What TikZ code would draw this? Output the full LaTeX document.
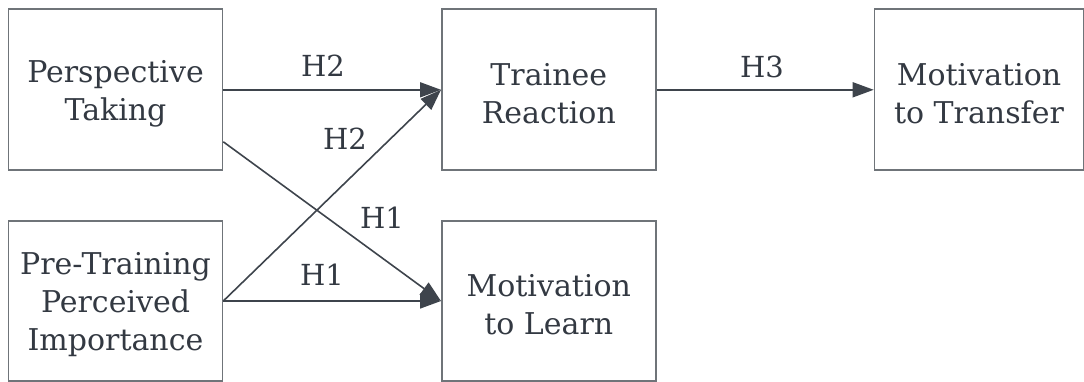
\documentclass[tikz,border=0pt]{standalone}
\usepackage{fontspec}
\setmainfont{DejaVu Serif}
\usetikzlibrary{arrows.meta}
\definecolor{txt}{HTML}{333942}
\definecolor{boxline}{HTML}{6F7479}
\definecolor{arr}{HTML}{3E444C}
\tikzset{
  box/.style={draw=boxline, line width=1.6pt, minimum width=214pt, minimum height=161pt,
    inner sep=0pt},
  boxtext/.style={align=center, text=txt, inner sep=0pt,
    font=\fontsize{30}{38}\selectfont},
  conn/.style={draw=arr, line width=1.6pt, -{Triangle[length=21pt,width=15pt]}},
  lab/.style={text=txt, inner sep=0pt, font=\fontsize{29}{38}\selectfont}
}
\begin{document}
\begin{tikzpicture}[x=1pt,y=-1pt]
\useasboundingbox (0,0) rectangle (1084,382);
\node[box] (pt) at (115.5,89.8) {};
\node[box, minimum height=160pt] (pi) at (115.5,301) {};
\node[box] (tr) at (548.8,89.8) {};
\node[box, minimum height=160pt] (ml) at (548.8,301) {};
\node[box, minimum width=209pt] (mt) at (979,89.8) {};
\node[boxtext] (ptt) at ([yshift=-4pt]pt.center) {Perspective\\Taking};
\node[boxtext] (pit) at ([yshift=-4pt]pi.center) {Pre-Training\\Perceived\\Importance};
\node[boxtext] (trt) at ([yshift=-4pt]tr.center) {Trainee\\Reaction};
\node[boxtext] (mlt) at ([yshift=-4pt]ml.center) {Motivation\\to Learn};
\node[boxtext] (mtt) at ([yshift=-4pt]mt.center) {Motivation\\to Transfer};
\coordinate (ptlow) at ([yshift=-52pt]pt.east);
\draw[conn] (pt.east) -- (tr.west);
\draw[conn] (ptlow) -- (ml.west);
\draw[conn] (pi.east) -- (tr.west);
\draw[conn] (pi.east) -- (ml.west);
\draw[conn] (tr.east) -- (mt.west);
\node[lab] (h2a) at (323,66) {H2};
\node[lab] (h2b) at (345,139) {H2};
\node[lab] (h1a) at (382,218) {H1};
\node[lab] (h1b) at (322,275) {H1};
\node[lab] (h3) at (762,67) {H3};
\end{tikzpicture}
\end{document}
